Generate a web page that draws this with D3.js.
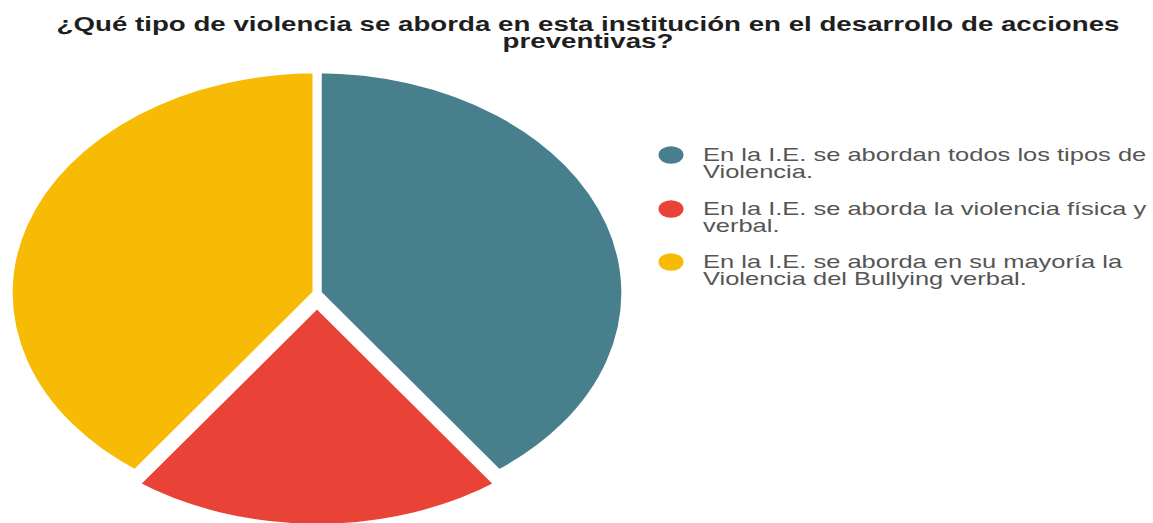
<!DOCTYPE html>
<html>
<head>
<meta charset="utf-8">
<script src="https://cdn.jsdelivr.net/npm/d3@7"></script>
<style>
  html, body { margin: 0; padding: 0; background: #ffffff; }
  svg { display: block; }
</style>
</head>
<body>
<svg id="chart" width="1153" height="523"></svg>
<script>
// ---- data ----
const titleLines = ["¿Qué tipo de violencia se aborda en esta institución en el desarrollo de acciones", "preventivas?"];
const categories = [
  "En la I.E. se abordan todos los tipos de Violencia.",
  "En la I.E. se aborda la violencia física y verbal.",
  "En la I.E. se aborda en su mayoría la Violencia del Bullying verbal."
];
const legendLines = [
  ["En la I.E. se abordan todos los tipos de", "Violencia."],
  ["En la I.E. se aborda la violencia física y", "verbal."],
  ["En la I.E. se aborda en su mayoría la", "Violencia del Bullying verbal."]
];
const values = [40, 20, 40];
const colors = ["#477f8c", "#e84336", "#f8bb05"];
const explode = [0, 11, 0];

// ---- layout ----
const W = 1153, H = 523;
const sx = 1.385;           // horizontal stretch of the whole picture
const cx = 317, cy = 293, r = 223;

const svg = d3.select("#chart");

// title
svg.append("g").selectAll("text")
  .data(titleLines)
  .join("text")
  .attr("transform", (d, i) => `translate(588,${31 + i * 17}) scale(${sx},1)`)
  .attr("text-anchor", "middle")
  .attr("font-family", "'Liberation Sans', Arial, sans-serif")
  .attr("font-weight", "bold")
  .attr("font-size", 20)
  .attr("fill", "#1f1f1f")
  .text(d => d);

// pie
const pie = d3.pie().sort(null).value(d => d)(values);
const arc = d3.arc().innerRadius(0).outerRadius(r);

const pieG = svg.append("g")
  .attr("transform", `translate(${cx},${cy}) scale(${sx},1)`);

pieG.selectAll("path")
  .data(pie)
  .join("path")
  .attr("d", arc)
  .attr("transform", (d, i) => {
    const a = (d.startAngle + d.endAngle) / 2;
    return `translate(${Math.sin(a) * explode[i]},${-Math.cos(a) * explode[i]})`;
  })
  .attr("fill", (d, i) => colors[i])
  .attr("stroke", "#ffffff")
  .attr("stroke-width", 6.5)
  .attr("stroke-linejoin", "miter");

// legend
const legendY = [155, 209, 262];
const leg = svg.append("g");
const items = leg.selectAll("g.item")
  .data(categories)
  .join("g")
  .attr("class", "item");

items.append("ellipse")
  .attr("cx", 671)
  .attr("cy", (d, i) => legendY[i])
  .attr("rx", 12.5)
  .attr("ry", 8.7)
  .attr("fill", (d, i) => colors[i]);

items.each(function(d, i) {
  d3.select(this).selectAll("text")
    .data(legendLines[i])
    .join("text")
    .attr("transform", (t, j) => `translate(703,${legendY[i] + 6 + j * 17}) scale(${sx},1)`)
    .attr("font-family", "'Liberation Sans', Arial, sans-serif")
    .attr("font-size", 18.4)
    .attr("fill", "#555555")
    .text(t => t);
});
</script>
</body>
</html>
